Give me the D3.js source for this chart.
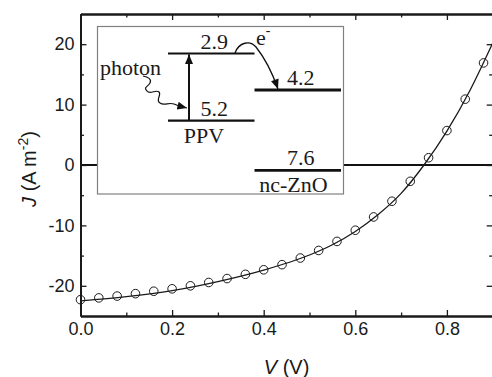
<!DOCTYPE html>
<html>
<head>
<meta charset="utf-8">
<script src="https://cdn.jsdelivr.net/npm/d3@7"></script>
<style>
  body { margin: 0; background: #fff; }
  svg { display: block; }
  .axis text { font-family: "Liberation Sans", Arial, sans-serif; font-size: 18px; fill: #1a1a1a; }
  .axis path, .axis line { stroke: #1a1a1a; }
  .inset text { font-family: "Liberation Serif", "Times New Roman", serif; font-size: 22px; fill: #1a1a1a; }
</style>
</head>
<body>
<div class="content"></div>
<script>
// Measured points
const voltage = [0, 0.04, 0.08, 0.12, 0.16, 0.2, 0.24, 0.28, 0.32, 0.36, 0.4, 0.44,
  0.48, 0.52, 0.56, 0.6, 0.64, 0.68, 0.72, 0.76, 0.8, 0.84, 0.88];
const current = [-22.3, -22.0, -21.7, -21.3, -20.9, -20.5, -20.0, -19.45, -18.8, -18.1,
  -17.35, -16.5, -15.4, -14.15, -12.65, -10.8, -8.6, -6.0, -2.7, 1.2, 5.7, 10.9, 16.9];

// Fit line
const fitV = [0, 0.1, 0.2, 0.3, 0.4, 0.5, 0.55, 0.6, 0.65, 0.7, 0.75, 0.8, 0.85, 0.9];
const fitJ = [-22.5, -21.8, -20.8, -19.3, -17.4, -14.9, -13.2, -11.0, -8.2, -4.7, 0.0, 5.6, 12.3, 20.2];

// Ticks
const xTicks = [0, 0.2, 0.4, 0.6, 0.8];
const xMinor = [0.1, 0.3, 0.5, 0.7];
const yTicks = [-20, -10, 0, 10, 20];
const yMinor = [-15, -5, 5, 15];

// Inset: energy levels (eV)
const materials = ["PPV", "nc-ZnO"];
const levels = [
  { material: "PPV", energy: 2.9 },
  { material: "PPV", energy: 5.2 },
  { material: "nc-ZnO", energy: 4.2 },
  { material: "nc-ZnO", energy: 7.6 },
];

// Dimensions
const W = 492, H = 377;
const margin = { top: 14, right: -0.7, bottom: 61, left: 80.5 };

const svg = d3.select(".content").append("svg")
  .attr("width", W).attr("height", H);

const x = d3.scaleLinear().domain([0, 0.9]).range([margin.left, W - margin.right]);
const y = d3.scaleLinear().domain([-25, 25]).range([H - margin.bottom, margin.top]);

// zero line (inset box covers part of it)
svg.append("line")
  .attr("x1", x(0)).attr("x2", x(0.9))
  .attr("y1", y(0)).attr("y2", y(0))
  .attr("stroke", "#111").attr("stroke-width", 2.2);

// ---- Inset
const inset = svg.append("g").attr("class", "inset");
inset.append("rect")
  .attr("x", 97.5).attr("y", 26.5).attr("width", 246).attr("height", 167.5)
  .attr("fill", "#fff").attr("stroke", "#808080").attr("stroke-width", 1.2);

const xIn = d3.scaleBand().domain(materials).range([168, 341]);
const yIn = d3.scaleLinear().domain([2.9, 4.2, 5.2, 7.6]).range([53.5, 90, 120.7, 170.3]);

const defs = svg.append("defs");
defs.append("marker")
  .attr("id", "head")
  .attr("viewBox", "0 0 12 10")
  .attr("refX", 12).attr("refY", 5)
  .attr("markerWidth", 11).attr("markerHeight", 8)
  .attr("markerUnits", "userSpaceOnUse")
  .attr("orient", "auto")
  .append("path").attr("d", "M0,0 L12,5 L0,10 Z").attr("fill", "#111");

inset.selectAll("line.level")
  .data(levels)
  .join("line")
  .attr("class", "level")
  .attr("x1", (d) => xIn(d.material))
  .attr("x2", (d) => xIn(d.material) + xIn.bandwidth())
  .attr("y1", (d) => yIn(d.energy))
  .attr("y2", (d) => yIn(d.energy))
  .attr("stroke", "#111")
  .attr("stroke-width", (d) => (d.material === "PPV" ? 2.2 : 2.8));

inset.selectAll("text.level")
  .data(levels)
  .join("text")
  .attr("class", "level")
  .attr("x", (d) => xIn(d.material) + xIn.bandwidth() / 2 + 3)
  .attr("y", (d) => yIn(d.energy) - 5)
  .attr("text-anchor", "middle")
  .text((d) => d.energy.toFixed(1));

// material names
inset.append("text")
  .attr("x", xIn("PPV") + 36).attr("y", yIn(5.2) + 22)
  .attr("text-anchor", "middle").text("PPV");
inset.append("text")
  .attr("x", xIn("nc-ZnO") + 39).attr("y", yIn(7.6) + 21.5)
  .attr("text-anchor", "middle").text("nc-ZnO");
inset.append("text")
  .attr("x", 100).attr("y", 75).text("photon");

// electron label
const eLabel = inset.append("text").attr("x", 256).attr("y", 45);
eLabel.append("tspan").text("e");
eLabel.append("tspan").attr("dy", -10).attr("font-size", 14).text("-");

// excitation arrow
const ax = xIn("PPV") + 21;
inset.append("line")
  .attr("x1", ax).attr("x2", ax)
  .attr("y1", yIn(5.2)).attr("y2", yIn(2.9) + 1)
  .attr("stroke", "#111").attr("stroke-width", 2)
  .attr("marker-end", "url(#head)");

// photon squiggle
inset.append("path")
  .attr("d", "M143,76 c5,1 9,3 7,7 c-2,4 -7,4 -3,8 c3,4 9,-2 12,1 c3,3 -4,8 1,11 c4,3 9,-1 14,1 c4,2 9,3 13,4")
  .attr("fill", "none").attr("stroke", "#111").attr("stroke-width", 1.2)
  .attr("marker-end", "url(#head)");

// electron transfer arrow
inset.append("path")
  .attr("d", "M235,53 C239,42 250,40 256,47 C264,57 272,72 278,89")
  .attr("fill", "none").attr("stroke", "#111").attr("stroke-width", 1.3)
  .attr("marker-end", "url(#head)");

// ---- Fit curve & points
const line = d3.line()
  .x((d, i) => x(fitV[i]))
  .y((d) => y(d))
  .curve(d3.curveMonotoneX);

svg.append("path")
  .datum(fitJ)
  .attr("d", line)
  .attr("fill", "none")
  .attr("stroke", "#1a1a1a")
  .attr("stroke-width", 1.3);

svg.append("g")
  .selectAll("circle")
  .data(current)
  .join("circle")
  .attr("cx", (d, i) => x(voltage[i]))
  .attr("cy", (d) => y(d))
  .attr("r", 4.3)
  .attr("fill", "none")
  .attr("stroke", "#1a1a1a")
  .attr("stroke-width", 1);

// ---- Axes
const x0 = x.range()[0], x1 = x.range()[1];
const y0 = y.range()[0], y1 = y.range()[1];

const addAxis = (axisFn, scale, tr, values, size, fmt) => {
  const a = axisFn(scale).tickValues(values).tickSize(size).tickSizeOuter(0).tickPadding(6);
  if (fmt) a.tickFormat(fmt); else a.tickFormat("");
  return svg.append("g").attr("class", "axis").attr("transform", tr).call(a);
};

addAxis(d3.axisBottom, x, `translate(0,${y0})`, xTicks, -6, d3.format(".1f"));
addAxis(d3.axisBottom, x, `translate(0,${y0})`, xMinor, -3.5);
addAxis(d3.axisTop, x, `translate(0,${y1})`, xTicks, -6);
addAxis(d3.axisTop, x, `translate(0,${y1})`, xMinor, -3.5);
addAxis(d3.axisLeft, y, `translate(${x0},0)`, yTicks, -6, (d) => d);
addAxis(d3.axisLeft, y, `translate(${x0},0)`, yMinor, -3.5);
addAxis(d3.axisRight, y, `translate(${x1},0)`, yTicks, -6);
addAxis(d3.axisRight, y, `translate(${x1},0)`, yMinor, -3.5);

svg.selectAll(".axis path.domain").attr("stroke-width", 1.9);
svg.selectAll(".axis line").attr("stroke-width", 1.3);

// Axis titles
const xTitle = svg.append("text")
  .attr("x", (x0 + x1) / 2).attr("y", 374)
  .attr("text-anchor", "middle")
  .style("font-family", "'Liberation Sans', Arial, sans-serif")
  .style("font-size", "20px").attr("fill", "#1a1a1a");
xTitle.append("tspan").style("font-style", "italic").text("V");
xTitle.append("tspan").text(" (V)");

const yTitle = svg.append("text")
  .attr("transform", `translate(36,${(y0 + y1) / 2 + 4}) rotate(-90)`)
  .attr("text-anchor", "middle")
  .style("font-family", "'Liberation Sans', Arial, sans-serif")
  .style("font-size", "20px").attr("fill", "#1a1a1a");
yTitle.append("tspan").style("font-style", "italic").text("J");
yTitle.append("tspan").text(" (A m");
yTitle.append("tspan").attr("dy", -8).style("font-size", "14px").text("-2");
yTitle.append("tspan").attr("dy", 8).text(")");
</script>
</body>
</html>
